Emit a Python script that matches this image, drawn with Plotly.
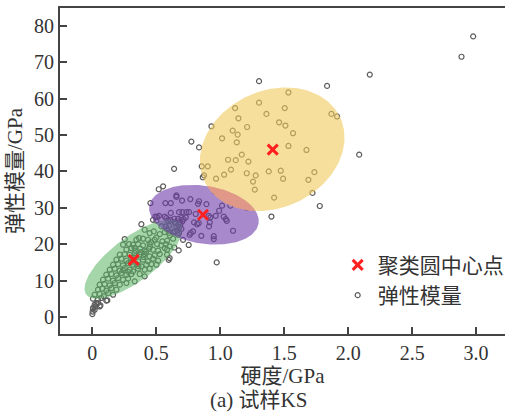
import numpy as np
import plotly.graph_objects as go

# ---------------- data (hardness GPa, elastic modulus GPa) ----------------
# points outside the cluster circles
hard_out = [2.977, 2.886, 2.169, 1.303, 1.835, 2.086, 1.778, 1.721, 1.400, 0.972,
            0.774, 0.834, 0.931, 0.639, 0.553, 0.519, 0.454, 0.383, 0.641, 0.675,
            0.753, 0.604, 0.597, 0.709, 0.000, 0.002, 0.005, 0.023, 0.057, 0.117, 0.031]
mod_out = [77.1, 71.5, 66.6, 64.8, 63.5, 44.6, 30.5, 34.1, 27.6, 15.0,
           48.2, 46.6, 52.4, 40.7, 35.9, 35.1, 31.3, 25.5, 19.1, 18.3,
           19.8, 16.2, 15.7, 21.2, 0.8, 1.5, 2.3, 2.9, 2.9, 4.6, 3.8]

# yellow cluster
hard_y = [1.533, 1.116, 1.504, 1.361, 1.142, 1.869, 1.913, 1.460, 1.509, 1.210,
          1.097, 1.136, 1.569, 1.014, 1.129, 1.533, 1.674, 1.168, 1.061, 1.121,
          1.220, 0.855, 0.902, 1.084, 1.379, 1.473, 1.736, 1.207, 1.030, 1.277,
          0.873, 0.863, 0.967, 1.491, 1.689, 1.256, 1.270, 0.959, 1.421, 1.144,
          1.137, 1.207, 1.079, 1.303]
mod_y = [61.7, 57.4, 57.4, 55.8, 54.6, 55.8, 55.1, 53.5, 52.6, 52.2,
         51.2, 50.1, 50.5, 49.1, 48.0, 47.0, 45.9, 44.6, 43.2, 43.1,
         42.7, 41.4, 41.4, 40.5, 40.0, 40.2, 39.8, 39.5, 39.1, 38.9,
         38.9, 38.4, 38.0, 38.0, 37.7, 37.2, 35.0, 34.5, 32.8, 31.3,
         31.2, 30.1, 30.6, 58.9]

# purple cluster
hard_p = [0.657, 0.657, 0.571, 0.613, 0.701, 0.766, 0.834, 0.826, 0.892, 1.014,
          0.991, 0.613, 0.678, 0.704, 0.735, 0.756, 0.808, 0.910, 0.923, 0.965,
          1.027, 1.043, 1.051, 0.493, 0.506, 0.521, 0.566, 0.641, 0.670, 0.696,
          0.714, 0.730, 0.644, 0.683, 0.704, 0.795, 0.819, 0.832, 0.918, 0.474,
          0.501, 0.592, 0.540, 0.574, 0.600, 0.657, 0.678, 0.696, 0.631, 0.665,
          0.678, 0.600, 0.787, 0.769, 0.761, 0.912, 0.852, 0.949, 0.949, 1.100,
          0.579, 0.610, 0.652, 0.688, 0.584, 0.644, 0.670]
mod_p = [33.4, 33.0, 31.3, 31.3, 32.0, 32.4, 31.8, 31.1, 31.0, 30.6,
         29.2, 28.6, 28.8, 28.8, 28.8, 28.8, 28.3, 27.8, 27.4, 27.8,
         27.6, 26.9, 26.4, 27.6, 27.5, 27.8, 27.6, 27.0, 27.0, 27.2,
         26.9, 27.4, 26.1, 26.1, 26.3, 26.0, 25.5, 25.8, 26.0, 26.7,
         26.5, 26.5, 24.9, 24.9, 25.1, 24.9, 24.6, 24.2, 23.3, 23.8,
         23.1, 23.1, 23.5, 23.1, 22.6, 24.9, 22.3, 22.2, 21.4, 23.7,
         27.2, 26.7, 25.8, 25.5, 24.0, 23.5, 22.6]

# green cluster
hard_g = [0.409, 0.448, 0.480, 0.527, 0.566, 0.605, 0.631,
          0.253, 0.344, 0.365, 0.396, 0.435, 0.487, 0.547, 0.584,
          0.240, 0.287, 0.318, 0.357, 0.396, 0.448, 0.506, 0.540, 0.574, 0.605,
          0.266, 0.305, 0.339, 0.375, 0.409, 0.443, 0.474, 0.514, 0.566, 0.584,
          0.214, 0.253, 0.292, 0.331, 0.370, 0.409, 0.448, 0.487, 0.527, 0.584,
          0.188, 0.227, 0.266, 0.305, 0.357, 0.396, 0.435, 0.474, 0.514,
          0.162, 0.201, 0.240, 0.279, 0.318, 0.344, 0.383, 0.422, 0.461, 0.501,
          0.136, 0.175, 0.214, 0.253, 0.292, 0.318, 0.357, 0.409, 0.448,
          0.109, 0.149, 0.188, 0.227, 0.266, 0.305, 0.370, 0.409,
          0.083, 0.123, 0.162, 0.201, 0.240, 0.279, 0.331,
          0.057, 0.096, 0.136, 0.175, 0.214, 0.266,
          0.044, 0.078, 0.109, 0.149, 0.188,
          0.018, 0.057, 0.089, 0.123, 0.162,
          0.005, 0.044, 0.070, 0.109,
          0.018, 0.044, 0.063, 0.005, 0.018,
          0.300, 0.340, 0.380, 0.420, 0.360, 0.280, 0.450, 0.500, 0.240, 0.330, 0.400, 0.460]
mod_g = [23.98, 23.07, 23.52, 22.79, 23.34, 22.43, 21.51,
         21.42, 21.24, 21.69, 21.51, 21.24, 21.24, 20.78, 20.96,
         19.86, 20.05, 19.86, 20.05, 19.68, 20.05, 20.05, 19.68, 20.05, 19.41,
         18.49, 18.95, 18.22, 18.76, 18.22, 18.76, 18.49, 18.22, 18.95, 18.49,
         17.12, 17.30, 17.12, 17.57, 17.12, 17.30, 16.66, 16.93, 17.30, 17.12,
         15.74, 16.02, 15.47, 16.20, 15.29, 15.74, 15.29, 16.02, 15.47,
         14.37, 14.55, 14.19, 14.83, 14.37, 14.55, 13.91, 14.37, 14.55, 14.37,
         13.00, 13.27, 12.72, 13.46, 13.00, 12.54, 13.27, 13.00, 13.27,
         11.62, 11.81, 11.44, 12.08, 11.62, 11.81, 11.81, 11.17,
         10.25, 10.53, 9.98, 10.71, 10.25, 10.53, 9.79,
         8.88, 9.06, 8.70, 9.34, 8.88, 9.34,
         7.51, 7.78, 7.23, 7.96, 7.51,
         6.13, 6.32, 5.68, 6.59, 6.13,
         5.03, 4.76, 5.22, 4.49,
         3.39, 3.84, 3.20, 2.47, 2.01,
         15.0, 16.8, 17.8, 17.9, 14.0, 12.4, 19.3, 21.8, 12.9, 19.0, 16.5, 20.6]

# cluster centres
center_hard = [0.323, 0.865, 1.410]
center_mod = [15.7, 28.1, 46.0]

x_ticks = [0, 0.5, 1.0, 1.5, 2.0, 2.5, 3.0]
x_ticktext = ["0", "0.5", "1.0", "1.5", "2.0", "2.5", "3.0"]
y_ticks = [0, 10, 20, 30, 40, 50, 60, 70, 80]
y_ticktext = [str(v) for v in y_ticks]

# ---------------- layout geometry ----------------
W, H = 505, 415
ML, MR, MT, MB = 60, 0, 8, 81
XR = [-0.253, 3.226]
YR = [-4.67, 84.9]
sx = (W - ML - MR) / (XR[1] - XR[0])
sy = (H - MT - MB) / (YR[1] - YR[0])

# cluster circles: centre (data), semi-axes (px), tilt (deg), fill
ellipses = [
    (0.321, 15.9, 59.0, 22.0, 37.0, "rgba(90,180,100,0.55)"),
    (0.872, 28.1, 55.4, 28.9, -9.2, "rgba(110,60,170,0.6)"),
    (1.406, 46.1, 75.0, 58.5, 25.0, "rgba(240,200,90,0.6)"),
]


def ellipse_xy(e, n=240):
    cx, cy, a, b, ang = e[:5]
    t = np.linspace(0, 2 * np.pi, n)
    th = np.radians(ang)
    dx = a * np.cos(t) * np.cos(th) - b * np.sin(t) * np.sin(th)
    dy = a * np.cos(t) * np.sin(th) + b * np.sin(t) * np.cos(th)
    return cx + dx / sx, cy + dy / sy


def inside(x, y, e):
    cx, cy, a, b, ang = e[:5]
    th = np.radians(ang)
    px = (x - cx) * sx
    py = (y - cy) * sy
    u = px * np.cos(th) + py * np.sin(th)
    v = -px * np.sin(th) + py * np.cos(th)
    return (u / a) ** 2 + (v / b) ** 2 <= 1.0


FONT = "Liberation Serif, 'Noto Sans CJK SC', serif"
GREY = "#444444"

fig = go.Figure()

all_x = hard_out + hard_y + hard_p + hard_g
all_y = mod_out + mod_y + mod_p + mod_g
fig.add_trace(go.Scatter(
    x=all_x, y=all_y, mode="markers", name="弹性模量", legendrank=2,
    marker=dict(symbol="circle-open", size=5, color="#5c5c5c",
                line=dict(width=1.2, color="#5c5c5c")),
))

for e in ellipses:
    ex, ey = ellipse_xy(e)
    fig.add_trace(go.Scatter(x=ex, y=ey, mode="lines", fill="toself",
                             fillcolor=e[5], line=dict(width=0, color="rgba(0,0,0,0)"),
                             hoverinfo="skip", showlegend=False))

# overlap of purple and yellow circles
ep, eyl = ellipses[1], ellipses[2]
yx, yy = ellipse_xy(eyl, 600)
px_, py_ = ellipse_xy(ep, 600)
m1 = inside(yx, yy, ep)
m2 = inside(px_, py_, eyl)
ox = np.concatenate([yx[m1], px_[m2]])
oy = np.concatenate([yy[m1], py_[m2]])
if len(ox) > 2:
    mx, my = ox.mean(), oy.mean()
    order = np.argsort(np.arctan2((oy - my) * sy, (ox - mx) * sx))
    ox, oy = ox[order], oy[order]
    fig.add_trace(go.Scatter(x=np.append(ox, ox[0]), y=np.append(oy, oy[0]), mode="lines",
                             fill="toself", fillcolor="rgba(226,150,138,0.9)",
                             line=dict(width=0, color="rgba(0,0,0,0)"),
                             hoverinfo="skip", showlegend=False))

fig.add_trace(go.Scatter(
    x=center_hard, y=center_mod, mode="markers", name="聚类圆中心点", legendrank=1,
    marker=dict(symbol="x-thin", size=10, color="#ff1f1f",
                line=dict(width=3, color="#ff1f1f")),
))

axis_common = dict(
    showgrid=False, zeroline=False, showline=True, linecolor=GREY, linewidth=2,
    ticks="inside", ticklen=7, tickwidth=1.5, tickcolor=GREY,
    tickfont=dict(family=FONT, size=20, color="#333333"),
    automargin=False,
)

fig.update_layout(
    width=W, height=H,
    margin=dict(l=ML, r=MR, t=MT, b=MB, autoexpand=False),
    paper_bgcolor="white", plot_bgcolor="white",
    font=dict(family=FONT, color="#333333"),
    xaxis=dict(range=XR, tickvals=x_ticks, ticktext=x_ticktext, mirror=True,
               title=dict(text="硬度/GPa", font=dict(family=FONT, size=21, color="#333333"),
                          standoff=4),
               **axis_common),
    yaxis=dict(range=YR, tickvals=y_ticks, ticktext=y_ticktext, mirror=False,
               title=dict(text="弹性模量/GPa", font=dict(family=FONT, size=21, color="#333333"),
                          standoff=6),
               **axis_common),
    legend=dict(x=0.624, y=0.165, xanchor="left", yanchor="middle",
                bgcolor="rgba(0,0,0,0)", borderwidth=0, tracegroupgap=0,
                font=dict(family=FONT, size=21, color="#333333")),
    showlegend=True,
    annotations=[dict(text="(a) 试样KS", xref="paper", yref="paper", x=0.447, y=-0.201,
                      xanchor="center", yanchor="middle", showarrow=False,
                      font=dict(family=FONT, size=21, color="#333333"))],
)

fig.write_html("out.html")
